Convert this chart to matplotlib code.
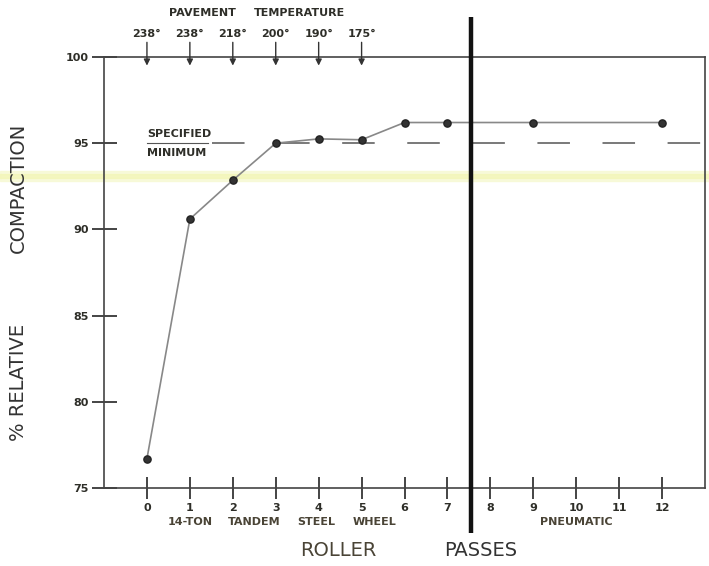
import matplotlib.pyplot as plt
from matplotlib.patches import Rectangle

# ----------------------------
# DATA
# ----------------------------
passes = [0, 1, 2, 3, 4, 5, 6, 7, 9, 12]
compaction = [76.7, 90.6, 92.85, 95.0, 95.25, 95.2, 96.2, 96.2, 96.2, 96.2]

temp_passes = [0, 1, 2, 3, 4, 5]
temp_labels = ["238°", "238°", "218°", "200°", "190°", "175°"]

xticks = list(range(0, 13))
yticks = [75, 80, 85, 90, 95, 100]
spec_min = 95

roller_labels = ["14-TON", "TANDEM", "STEEL", "WHEEL", "PNEUMATIC"]
roller_label_x = [1.0, 2.5, 3.95, 5.3, 10.0]

ink = "#2e2e28"
label_ink = "#4a4436"

# ----------------------------
# FIGURE
# ----------------------------
fig = plt.figure(figsize=(7.09, 5.66), dpi=100)
ax = fig.add_axes([0.1467, 0.1378, 0.8477, 0.7615])
ax.set_zorder(2)

# faint yellow scan stripe across the page
fig.patches.append(Rectangle((0, 0.681), 1, 0.016, transform=fig.transFigure,
                             color="#f7f9d2", alpha=0.8, zorder=0))
fig.patches.append(Rectangle((0, 0.685), 1, 0.008, transform=fig.transFigure,
                             color="#f3f6b8", alpha=0.8, zorder=0))

ax.set_xlim(-1, 13)
ax.set_ylim(75, 100)
ax.patch.set_alpha(0)

for s in ax.spines.values():
    s.set_color("#444")
    s.set_linewidth(1.2)

ax.set_xticks(xticks)
ax.set_yticks(yticks)
ax.tick_params(direction="inout", length=16, width=1.4, color="#444",
               labelsize=8, labelcolor=ink, pad=3)
ax.tick_params(axis="y", length=18, pad=2)
for lab in ax.get_xticklabels() + ax.get_yticklabels():
    lab.set_fontweight("bold")

# specified minimum
ax.plot([0, 1.42], [spec_min, spec_min], color="#555", lw=0.8)
ax.plot([1.51, 13], [spec_min, spec_min], color="#555", lw=1.1,
        dashes=(21.3, 21.3))
ax.text(0, spec_min + 0.25, "SPECIFIED", fontsize=8, fontweight="bold",
        color=ink, va="bottom", ha="left")
ax.text(0, spec_min - 0.25, "MINIMUM", fontsize=8, fontweight="bold",
        color=ink, va="top", ha="left")

# compaction curve
ax.plot(passes, compaction, color="#888", lw=1.2, marker="o",
        markersize=5.2, markerfacecolor="#333", markeredgecolor="#222",
        zorder=3)

# roller change line
ax.plot([7.55, 7.55], [72.4, 102.3], color="#111", lw=3.2, clip_on=False,
        solid_capstyle="butt", zorder=4)

# pavement temperature arrows
for x, t in zip(temp_passes, temp_labels):
    ax.annotate("", xy=(x, 99.5), xytext=(x, 100.85),
                arrowprops=dict(arrowstyle="-|>", color="#333", lw=1.0,
                                mutation_scale=9, shrinkA=0, shrinkB=0),
                annotation_clip=False)
    ax.text(x, 101.05, t, fontsize=8, color=ink, ha="center", va="bottom",
            fontweight="bold")
ax.text(1.3, 102.55, "PAVEMENT", fontsize=8, fontweight="bold", color=ink,
        ha="center", va="center")
ax.text(3.56, 102.55, "TEMPERATURE", fontsize=8, fontweight="bold",
        color=ink, ha="center", va="center")

# roller type labels
for x, lab in zip(roller_label_x, roller_labels):
    ax.text(x, 73.0, lab, fontsize=8, fontweight="bold", color=label_ink,
            ha="center", va="center")

ax.text(4.45, 71.4, "ROLLER", fontsize=14, color=label_ink, ha="center",
        va="center")
ax.text(7.77, 71.4, "PASSES", fontsize=14, color="#333", ha="center",
        va="center")

# y-axis title (two parts)
fig.text(0.026, 1 - 188 / 566, "COMPACTION", rotation=90, fontsize=14,
         color="#333", ha="center", va="center")
fig.text(0.026, 1 - 382 / 566, "% RELATIVE", rotation=90, fontsize=14,
         color="#333", ha="center", va="center")

fig.savefig("out.png", dpi=100)
